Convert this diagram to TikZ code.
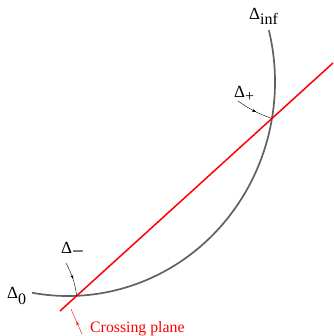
\documentclass[tikz,border=0pt]{standalone}
\usepackage{fontspec}
\setmainfont{Liberation Serif}
\usetikzlibrary{calc,intersections,decorations.markings,arrows.meta}
\newcommand{\subfnt}{\fontsize{16}{18}\selectfont}
\tikzset{
  midarrow/.style={decoration={markings,mark=at position #1 with {\arrow{Stealth[length=4pt,width=3pt]}}},postaction={decorate}},
  pointer/.style={line width=0.4pt},
  lbl/.style={inner sep=0pt,font=\fontsize{17}{19}\selectfont},
  smalllbl/.style={inner sep=0pt,font=\fontsize{15.8}{17}\selectfont,text=red}
}
\begin{document}
\begin{tikzpicture}[x=1pt,y=-1pt]
\useasboundingbox (0,0) rectangle (333,336);
\coordinate (c) at (68,82);
\draw[name path=curve,line width=1.7pt,color=black!62] ($(c)+(100:207 and 214)$) coordinate (cs)
  arc[start angle=100,end angle=-14,x radius=207,y radius=214] coordinate (ce);
\coordinate (r1) at (60,311);
\coordinate (r2) at (333,63);
\draw[name path=plane,line width=1.5pt,red] (r1) -- (r2);
\path[name intersections={of=curve and plane,name=x,sort by=plane}];
\node[lbl,anchor=base west] (dinf) at (249,20) {Δ\raisebox{-5pt}{\subfnt inf}};
\node[lbl,anchor=base west] (dplus) at (234,98) {Δ\raisebox{-4pt}{\subfnt +}};
\node[lbl,anchor=base west] (dminus) at (61,253) {Δ\raisebox{-5pt}{\fontsize{21}{22}\selectfont −}};
\node[lbl,anchor=base west] (dzero) at (7,298) {Δ\raisebox{-6pt}{\subfnt 0}};
\node[smalllbl,anchor=base west] (cp) at (90,332) {Crossing plane};
\draw[pointer,midarrow=0.55] (238,101) to[bend right=8] (x-2);
\draw[pointer,midarrow=0.5] (66,263) to[bend left=10] (x-1);
\draw[pointer,red,midarrow=0.5] (82,334) -- (71,309);
\end{tikzpicture}
\end{document}
